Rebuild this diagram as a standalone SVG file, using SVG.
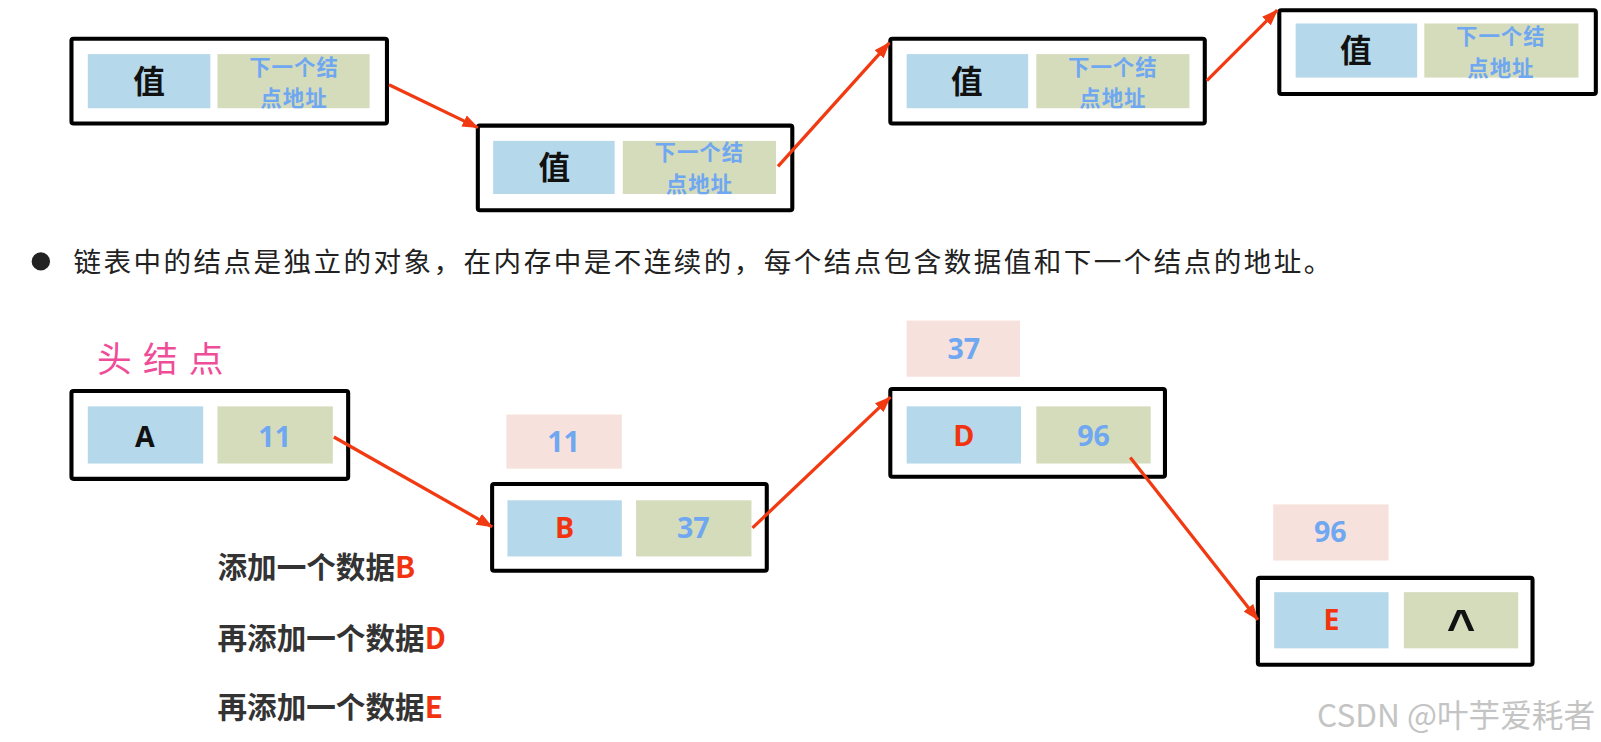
<svg xmlns="http://www.w3.org/2000/svg" width="1601" height="742" viewBox="0 0 1601 742">
<defs>
<marker id="ah" markerUnits="userSpaceOnUse" markerWidth="16" markerHeight="12" refX="15" refY="6" orient="auto">
<path d="M0,0 L16,6 L0,12 Z" fill="#f23a12"/>
</marker>
<style>
.box{fill:#fff;stroke:#000;stroke-width:4}
.val{fill:#b5d8ea}
.nxt{fill:#d5dcbc}
.pk{fill:#f7e1dd}
.zh{font-family:"Noto Sans CJK SC","Noto Sans",sans-serif;font-weight:700;text-anchor:middle}
.v{font-size:31px;fill:#111}
.n{font-size:21px;fill:#6fa7f0;letter-spacing:1px}
.lat{font-family:"Open Sans","Noto Sans","Liberation Sans",sans-serif;font-weight:700;font-size:28px;text-anchor:middle}
.blk{fill:#111}
.blu{fill:#6fa7f0}
.red{fill:#f2330f}
.lbl{font-family:"Noto Sans CJK SC","Noto Sans",sans-serif;font-weight:700;font-size:29px;fill:#333}
.conn line{stroke:#f23a12;stroke-width:3.2;marker-end:url(#ah)}
</style>
</defs>
<rect width="1601" height="742" fill="#fff"/>
<g transform="scale(1.021)">
<g id="t1">
<rect class="box" x="70" y="38" width="309" height="83" rx="2"/>
<rect class="val" x="86" y="53" width="120" height="53"/>
<rect class="nxt" x="213" y="53" width="149" height="53"/>
<text class="zh v" x="146" y="91">值</text>
<text class="zh n" x="288" y="73">下一个结<tspan x="288" dy="31">点地址</tspan></text>
</g>
<g id="t2">
<rect class="box" x="468" y="123" width="308" height="83" rx="2"/>
<rect class="val" x="483" y="138" width="119" height="52"/>
<rect class="nxt" x="610" y="138" width="150" height="52"/>
<text class="zh v" x="543" y="175">值</text>
<text class="zh n" x="685" y="157">下一个结<tspan x="685" dy="31">点地址</tspan></text>
</g>
<g id="t3">
<rect class="box" x="872" y="38" width="308" height="83" rx="2"/>
<rect class="val" x="888" y="53" width="119" height="53"/>
<rect class="nxt" x="1015" y="53" width="150" height="53"/>
<text class="zh v" x="947" y="91">值</text>
<text class="zh n" x="1090" y="73">下一个结<tspan x="1090" dy="31">点地址</tspan></text>
</g>
<g id="t4">
<rect class="box" x="1253" y="10" width="310" height="82" rx="2"/>
<rect class="val" x="1269" y="23" width="119" height="53"/>
<rect class="nxt" x="1395" y="23" width="151" height="53"/>
<text class="zh v" x="1328" y="61">值</text>
<text class="zh n" x="1470" y="43">下一个结<tspan x="1470" dy="31">点地址</tspan></text>
</g>

<g id="desc">
<circle cx="40" cy="256" r="9" fill="#222"/>
<text x="72" y="266" font-family="Noto Sans CJK SC,Noto Sans,sans-serif" font-size="27" fill="#222" textLength="1232" lengthAdjust="spacing">链表中的结点是独立的对象，在内存中是不连续的，每个结点包含数据值和下一个结点的地址。</text>
</g>

<g id="head-label">
<text x="95" y="364" font-family="Noto Sans CJK SC,sans-serif" font-size="34" fill="#ef4d97" letter-spacing="11">头结点</text>
</g>

<g id="nA">
<rect class="box" x="70" y="383" width="271" height="86" rx="2"/>
<rect class="val" x="86" y="398" width="113" height="56"/>
<rect class="nxt" x="213" y="398" width="113" height="56"/>
<text class="lat blk" x="142" y="438">A</text>
<text class="lat blu" x="269" y="438">11</text>
</g>
<g id="p11">
<rect class="pk" x="496" y="406" width="113" height="53"/>
<text class="lat blu" x="552" y="443">11</text>
</g>
<g id="nB">
<rect class="box" x="482" y="474" width="269" height="85" rx="2"/>
<rect class="val" x="497" y="490" width="112" height="55"/>
<rect class="nxt" x="623" y="490" width="113" height="55"/>
<text class="lat red" x="553" y="527">B</text>
<text class="lat blu" x="679" y="527">37</text>
</g>
<g id="p37">
<rect class="pk" x="888" y="314" width="111" height="55"/>
<text class="lat blu" x="944" y="352">37</text>
</g>
<g id="nD">
<rect class="box" x="872" y="381" width="269" height="86" rx="2"/>
<rect class="val" x="888" y="398" width="112" height="56"/>
<rect class="nxt" x="1015" y="398" width="112" height="56"/>
<text class="lat red" x="944" y="437">D</text>
<text class="lat blu" x="1071" y="437">96</text>
</g>
<g id="p96">
<rect class="pk" x="1247" y="494" width="113" height="55"/>
<text class="lat blu" x="1303" y="531">96</text>
</g>
<g id="nE">
<rect class="box" x="1232" y="566" width="269" height="85" rx="2"/>
<rect class="val" x="1248" y="580" width="112" height="55"/>
<rect class="nxt" x="1375" y="580" width="112" height="55"/>
<text class="lat red" x="1304" y="617">E</text>
<text x="1431" y="630" font-family="Liberation Sans,sans-serif" font-weight="700" font-size="48" text-anchor="middle" fill="#111">^</text>
</g>

<g id="labels">
<text class="lbl" x="213" y="566">添加一个数据<tspan class="red">B</tspan></text>
<text class="lbl" x="213" y="636">再添加一个数据<tspan class="red">D</tspan></text>
<text class="lbl" x="213" y="703">再添加一个数据<tspan class="red">E</tspan></text>
</g>

<g id="watermark">
<text x="1290" y="712" font-family="Noto Sans CJK SC,Noto Sans,sans-serif" font-size="31" fill="#c4c4c4">CSDN @叶芋爱耗者</text>
</g>

<g class="conn" id="connectors">
<line x1="381" y1="83" x2="468" y2="125"/>
<line x1="762" y1="163" x2="871" y2="42"/>
<line x1="1182" y1="79" x2="1251" y2="10"/>
<line x1="327" y1="428" x2="482" y2="516"/>
<line x1="737" y1="517" x2="872" y2="389"/>
<line x1="1107" y1="448" x2="1232" y2="607"/>
</g>
</g>
</svg>
